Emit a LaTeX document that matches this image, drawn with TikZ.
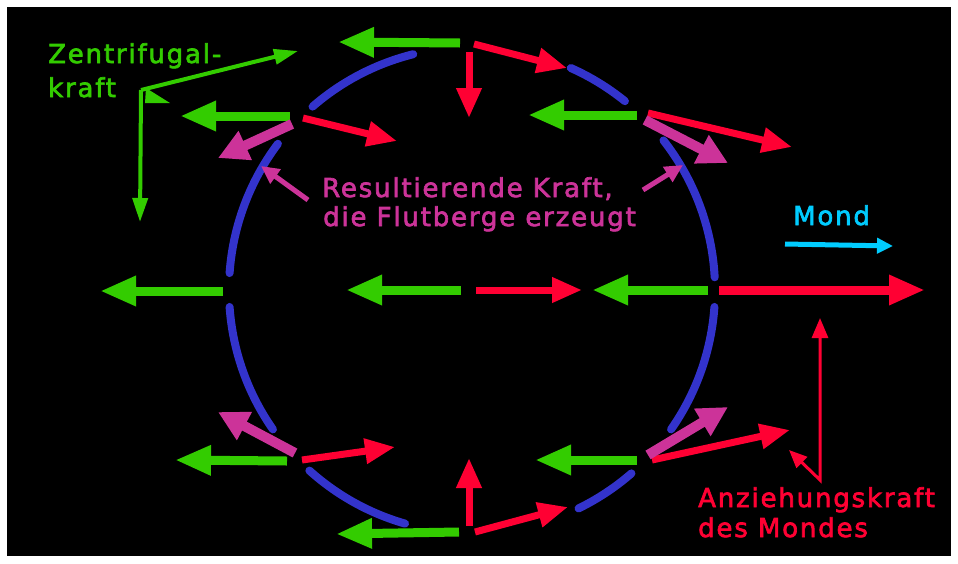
\documentclass[tikz,border=0pt]{standalone}
\usepackage{fontspec}
\setmainfont{DejaVu Sans}
\newfontfamily\lblfont[LetterSpace=7,FakeBold=2.5]{DejaVu Sans}
\usetikzlibrary{arrows.meta}

\definecolor{fgreen}{RGB}{51,204,0}
\definecolor{fred}{RGB}{255,0,51}
\definecolor{fmag}{RGB}{204,51,153}
\definecolor{fblue}{RGB}{51,51,204}
\definecolor{fcyan}{RGB}{0,204,255}

\begin{document}
\begin{tikzpicture}[x=1pt,y=-1pt,
  lbl/.style={inner sep=0pt, font=\lblfont\fontsize{26}{30}\selectfont, anchor=base west},
  earth/.style={draw=fblue, line width=8pt, line cap=round},
  gforce/.style={draw=fgreen, line width=9pt, -{Triangle[length=36pt,width=28pt]}},
  rforce/.style={draw=fred, line width=7pt, -{Triangle[length=30pt,width=24pt]}},
  rbig/.style={draw=fred, line width=9pt, -{Triangle[length=36pt,width=28pt]}},
  mforce/.style={draw=fmag, line width=10pt, -{Triangle[length=30pt,width=30pt]}},
  gnote/.style={draw=fgreen, line width=4pt, -{Triangle[length=24pt,width=15pt]}},
  mnote/.style={draw=fmag, line width=5pt, -{Triangle[length=18pt,width=17pt]}},
  rnote/.style={draw=fred, line width=3pt},
  cnote/.style={draw=fcyan, line width=5pt, -{Triangle[length=16pt,width=15pt]}}
]
% frame
\path[fill=white] (0,0) rectangle (958,563);
\path[fill=black] (7,7) rectangle (951,556);
\useasboundingbox (0,0) rectangle (958,563);

% the Earth: circle split into arcs between the force points
\coordinate (C) at (472,290);
\foreach \a/\b in {104/131, 51/66, 143/176, 184/215, 228/254, 296/311, 325/356, 3/38}
  \draw[earth] (C) ++(-\a:243) arc[start angle=-\a, end angle=-\b, radius=243];

% force points on and in the circle
\coordinate (T0) at (460,43);   \coordinate (T1) at (338,42);
\coordinate (T2) at (469,52);   \coordinate (T3) at (469,118);
\coordinate (T4) at (474,44);   \coordinate (T5) at (567,68);
\coordinate (UL0) at (290,116); \coordinate (UL1) at (180,116);
\coordinate (UL2) at (303,118); \coordinate (UL3) at (397,141);
\coordinate (UL4) at (292,124); \coordinate (UL5) at (218,158);
\coordinate (UR0) at (637,115); \coordinate (UR1) at (528,115);
\coordinate (UR2) at (648,113); \coordinate (UR3) at (792,147);
\coordinate (UR4) at (645,120); \coordinate (UR5) at (728,163);
\coordinate (L0) at (223,291);  \coordinate (L1) at (100,291);
\coordinate (M0) at (461,290);  \coordinate (M1) at (346,290);
\coordinate (M2) at (476,290);  \coordinate (M3) at (582,290);
\coordinate (R0) at (708,290);  \coordinate (R1) at (592,290);
\coordinate (R2) at (719,290);  \coordinate (R3) at (925,290);
\coordinate (LL0) at (287,461); \coordinate (LL1) at (175,460);
\coordinate (LL2) at (302,460); \coordinate (LL3) at (395,447);
\coordinate (LL4) at (295,453); \coordinate (LL5) at (218,412);
\coordinate (LR0) at (637,460); \coordinate (LR1) at (535,460);
\coordinate (LR2) at (652,460); \coordinate (LR3) at (790,430);
\coordinate (LR4) at (648,455); \coordinate (LR5) at (728,407);
\coordinate (B0) at (459,532);  \coordinate (B1) at (336,534);
\coordinate (B2) at (469,526);  \coordinate (B3) at (469,458);
\coordinate (B4) at (475,532);  \coordinate (B5) at (568,507);

% centrifugal forces
\foreach \p/\q in {T0/T1, UL0/UL1, UR0/UR1, L0/L1, M0/M1, R0/R1, LL0/LL1, LR0/LR1, B0/B1}
  \draw[gforce] (\p) -- (\q);
% lunar attraction
\foreach \p/\q in {T2/T3, T4/T5, UL2/UL3, UR2/UR3, M2/M3, LL2/LL3, LR2/LR3, B2/B3, B4/B5}
  \draw[rforce] (\p) -- (\q);
\draw[rbig] (R2) -- (R3);
% resulting forces
\foreach \p/\q in {UL4/UL5, UR4/UR5, LL4/LL5, LR4/LR5}
  \draw[mforce] (\p) -- (\q);

% labels
\node[lbl, text=fgreen] (zf1) at (48,63) {Zentrifugal-};
\node[lbl, text=fgreen] (zf2) at (48,97) {kraft};
\node[lbl, text=fmag] (rk1) at (322,197) {Resultierende Kraft,};
\node[lbl, text=fmag] (rk2) at (323,226) {die Flutberge erzeugt};
\node[lbl, text=fcyan] (mond) at (793,225) {Mond};
\node[lbl, text=fred] (ak1) at (698,507) {Anziehungskraft};
\node[lbl, text=fred] (ak2) at (698,537) {des Mondes};

% pointer for the centrifugal force
\coordinate (zc) at (141,90);
\coordinate (zr) at (298,51);
\coordinate (zd) at (140,222);
\draw[gnote] (zc) -- (zr);
\draw[gnote] (zc) -- (zd);
\fill[fgreen] (146,88) -- (170,103) -- (145,103) -- cycle;

% pointers for the resulting force
\coordinate (ma0) at (308,200); \coordinate (ma1) at (261,166);
\coordinate (mb0) at (643,190); \coordinate (mb1) at (683,165);
\draw[mnote] (ma0) -- (ma1);
\draw[mnote] (mb0) -- (mb1);

% pointers for the lunar attraction
\coordinate (ra) at (820,318);
\coordinate (rc) at (820,480);
\coordinate (rb) at (789,450);
\draw[rnote, {Triangle[length=20pt,width=16pt]}-{Triangle[length=18pt,width=15pt]}] (ra) -- (rc) -- (rb);

% direction of the Moon
\coordinate (cm0) at (785,244); \coordinate (cm1) at (893,246);
\draw[cnote] (cm0) -- (cm1);
\end{tikzpicture}
\end{document}
